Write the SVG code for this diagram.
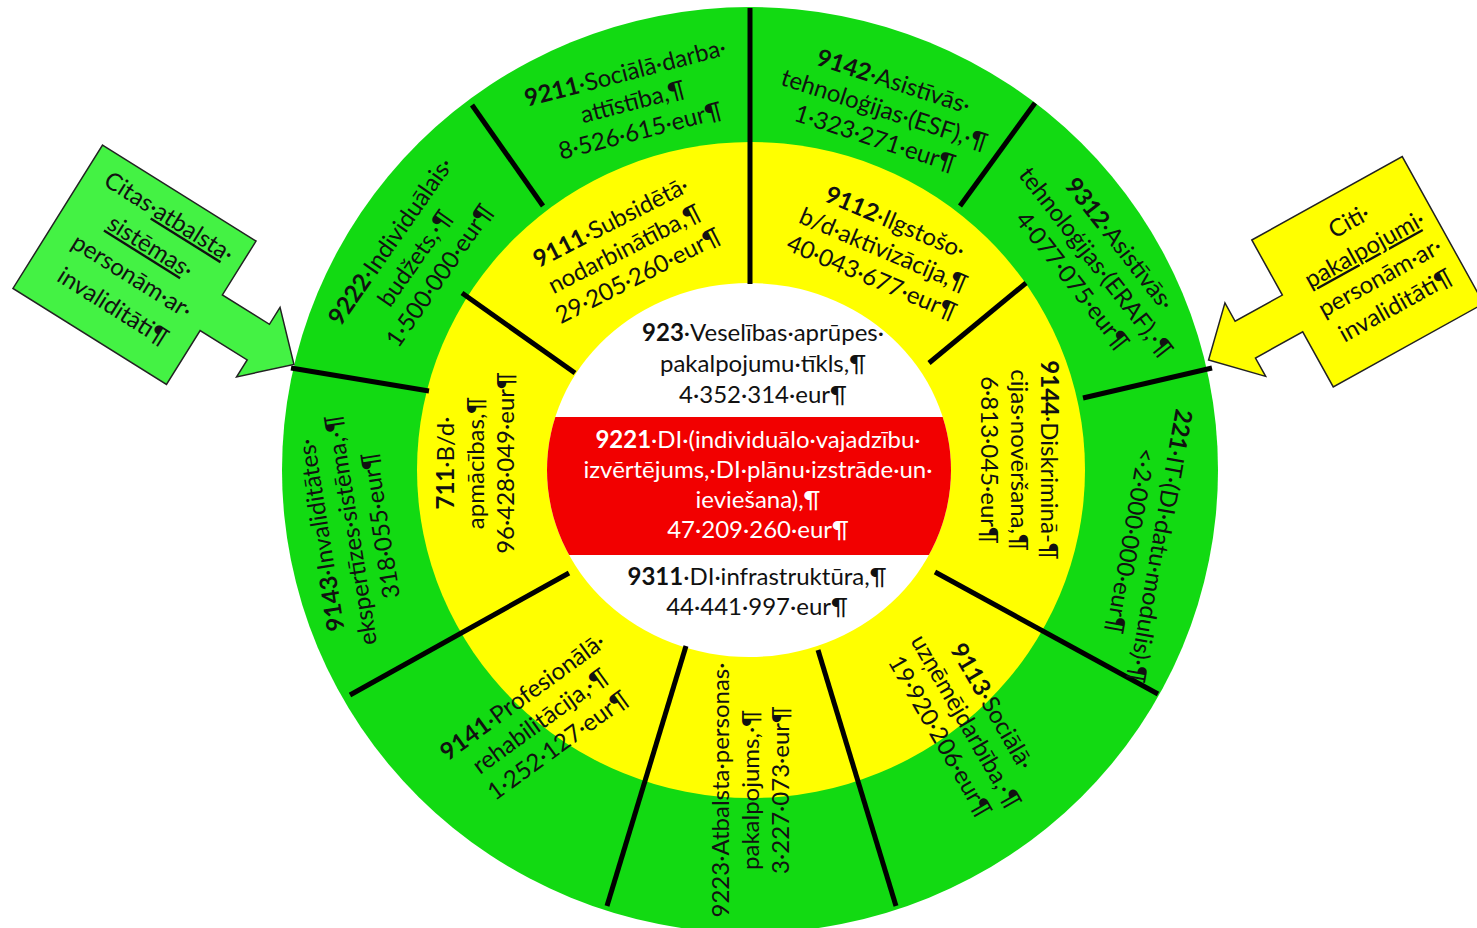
<svg xmlns="http://www.w3.org/2000/svg" width="1477" height="928" viewBox="0 0 1477 928">
<style>
.t{font-family:Lato,'Liberation Sans','DejaVu Sans',sans-serif;font-size:24px;fill:#111;text-anchor:middle}
.b{font-weight:bold}
.w{fill:#fff}
.ul{text-decoration:underline}
.div{stroke:#000;stroke-width:5;stroke-linecap:butt;fill:none}
</style>
<defs>
<clipPath id="whiteClip"><ellipse cx="749" cy="470" rx="202" ry="187"/></clipPath>
</defs>
<rect width="1477" height="928" fill="#fff"/>
<g id="rings">
<ellipse id="ring-outer" cx="750" cy="470" rx="468" ry="463" fill="#12DA12"/>
<ellipse id="ring-middle" cx="751" cy="470" rx="334" ry="328" fill="#FFFF00"/>
<ellipse id="ring-inner" cx="749" cy="470" rx="202" ry="187" fill="#FFFFFF"/>
<rect id="band-red" x="540" y="417" width="420" height="138" fill="#F20000" clip-path="url(#whiteClip)"/>
</g>
<g id="connectors">
<line class="div" x1="750" y1="8" x2="750" y2="284"/>
<line class="div" x1="472" y1="105" x2="543" y2="206"/>
<line class="div" x1="1035" y1="103" x2="960" y2="206"/>
<line class="div" x1="1026" y1="283" x2="929" y2="363"/>
<line class="div" x1="462" y1="293" x2="575" y2="373"/>
<line class="div" x1="291" y1="368" x2="429" y2="391"/>
<line class="div" x1="1083" y1="398" x2="1212" y2="368"/>
<line class="div" x1="569" y1="573" x2="350" y2="695"/>
<line class="div" x1="686" y1="646" x2="607" y2="906"/>
<line class="div" x1="818" y1="650" x2="896" y2="906"/>
<line class="div" x1="935" y1="572" x2="1158" y2="694"/>
</g>
<g id="callout-left" transform="translate(134.5,264.75) rotate(32)">
<path d="M-90.5,-84.5 H90.5 V-21 H146 V-41 L188,0 L146,41 V21 H90.5 V84.5 H-90.5 Z" fill="#44F244" stroke="#222" stroke-width="1.5"/>
<text class="t"><tspan x="4" y="-51">Citas·<tspan class="ul">atbalsta</tspan>·</tspan><tspan x="4" y="-16"><tspan class="ul">sistēmas</tspan>·</tspan><tspan x="4" y="19">personām·ar·</tspan><tspan x="4" y="55">invaliditāti¶</tspan></text>
</g>
<g id="callout-right" transform="translate(1367.75,271.75) rotate(-29)">
<path d="M-86,-84 H86 V84 H-86 V21 H-140 V42 L-182,0 L-140,-42 V-21 H-86 Z" fill="#FFFF00" stroke="#222" stroke-width="1.5"/>
<text class="t"><tspan x="8" y="-45">Citi·</tspan><tspan x="8" y="-13"><tspan class="ul">pakalpojumi</tspan>·</tspan><tspan x="8" y="19">personām·ar·</tspan><tspan x="8" y="51">invaliditāti¶</tspan></text>
</g>
<g id="n923"><text class="t"><tspan x="763" y="341"><tspan class="b">923</tspan>·Veselības·aprūpes·</tspan><tspan x="763" y="372">pakalpojumu·tīkls,¶</tspan><tspan x="763" y="403">4·352·314·eur¶</tspan></text></g>
<g id="n9221"><text class="t w"><tspan x="758" y="448"><tspan class="b">9221</tspan>·DI·(individuālo·vajadzību·</tspan><tspan x="758" y="478">izvērtējums,·DI·plānu·izstrāde·un·</tspan><tspan x="758" y="508">ieviešana),¶</tspan><tspan x="758" y="538">47·209·260·eur¶</tspan></text></g>
<g id="n9311"><text class="t"><tspan x="757" y="585"><tspan class="b">9311</tspan>·DI·infrastruktūra,¶</tspan><tspan x="757" y="615">44·441·997·eur¶</tspan></text></g>
<g id="n9211" transform="translate(633,103) rotate(-14.5)"><text class="t"><tspan x="0" y="-23"><tspan class="b">9211</tspan>·Sociālā·darba·</tspan><tspan x="0" y="7">attīstība,¶</tspan><tspan x="0" y="37">8·526·615·eur¶</tspan></text></g>
<g id="n9142" transform="translate(884,111) rotate(18)"><text class="t"><tspan x="0" y="-23"><tspan class="b">9142</tspan>·Asistīvās·</tspan><tspan x="0" y="7">tehnoloģijas·(ESF),·¶</tspan><tspan x="0" y="37">1·323·271·eur¶</tspan></text></g>
<g id="n9312" transform="translate(1095,263) rotate(52)"><text class="t"><tspan x="0" y="-23"><tspan class="b">9312</tspan>·Asistīvās·</tspan><tspan x="0" y="7">tehnoloģijas·(ERAF),·¶</tspan><tspan x="0" y="37">4·077·075·eur¶</tspan></text></g>
<g id="n221" transform="translate(1144,543) rotate(100)"><text class="t"><tspan x="0" y="-8"><tspan class="b">221</tspan>·IT·(DI·datu·modulis)·¶</tspan><tspan x="0" y="22">&lt;·2·000·000·eur¶</tspan></text></g>
<g id="n9113" transform="translate(965,722) rotate(60)"><text class="t"><tspan x="0" y="-23"><tspan class="b">9113</tspan>·Sociālā·</tspan><tspan x="0" y="7">uzņēmējdarbība,·¶</tspan><tspan x="0" y="37">19·920·206·eur¶</tspan></text></g>
<g id="n9223" transform="translate(752,790) rotate(-90)"><text class="t"><tspan x="0" y="-23">9223·Atbalsta·personas·</tspan><tspan x="0" y="7">pakalpojums,·¶</tspan><tspan x="0" y="37">3·227·073·eur¶</tspan></text></g>
<g id="n9141" transform="translate(541,722) rotate(-36)"><text class="t"><tspan x="0" y="-23"><tspan class="b">9141</tspan>·Profesionālā·</tspan><tspan x="0" y="7">rehabilitācija,·¶</tspan><tspan x="0" y="37">1·252·127·eur¶</tspan></text></g>
<g id="n9143" transform="translate(352,530) rotate(-99)"><text class="t"><tspan x="0" y="-23"><tspan class="b">9143</tspan>·Invaliditātes·</tspan><tspan x="0" y="7">ekspertīzes·sistēma,·¶</tspan><tspan x="0" y="37">318·055·eur¶</tspan></text></g>
<g id="n9222" transform="translate(416,259) rotate(-55)"><text class="t"><tspan x="0" y="-23"><tspan class="b">9222</tspan>·Individuālais·</tspan><tspan x="0" y="7">budžets,·¶</tspan><tspan x="0" y="37">1·500·000·eur¶</tspan></text></g>
<g id="n9111" transform="translate(625,250) rotate(-27)"><text class="t"><tspan x="0" y="-23"><tspan class="b">9111</tspan>·Subsidētā·</tspan><tspan x="0" y="7">nodarbinātība,¶</tspan><tspan x="0" y="37">29·205·260·eur¶</tspan></text></g>
<g id="n9112" transform="translate(883,251) rotate(23)"><text class="t"><tspan x="0" y="-23"><tspan class="b">9112</tspan>·Ilgstošo·</tspan><tspan x="0" y="7">b/d·aktivizācija,¶</tspan><tspan x="0" y="37">40·043·677·eur¶</tspan></text></g>
<g id="n9144" transform="translate(1018,460) rotate(90)"><text class="t"><tspan x="0" y="-23"><tspan class="b">9144</tspan>·Diskriminā-¶</tspan><tspan x="0" y="7">cijas·novēršana,¶</tspan><tspan x="0" y="37">6·813·045·eur¶</tspan></text></g>
<g id="n711" transform="translate(477,463) rotate(-90)"><text class="t"><tspan x="0" y="-23"><tspan class="b">711</tspan>·B/d·</tspan><tspan x="0" y="7">apmācības,¶</tspan><tspan x="0" y="37">96·428·049·eur¶</tspan></text></g>
</svg>
